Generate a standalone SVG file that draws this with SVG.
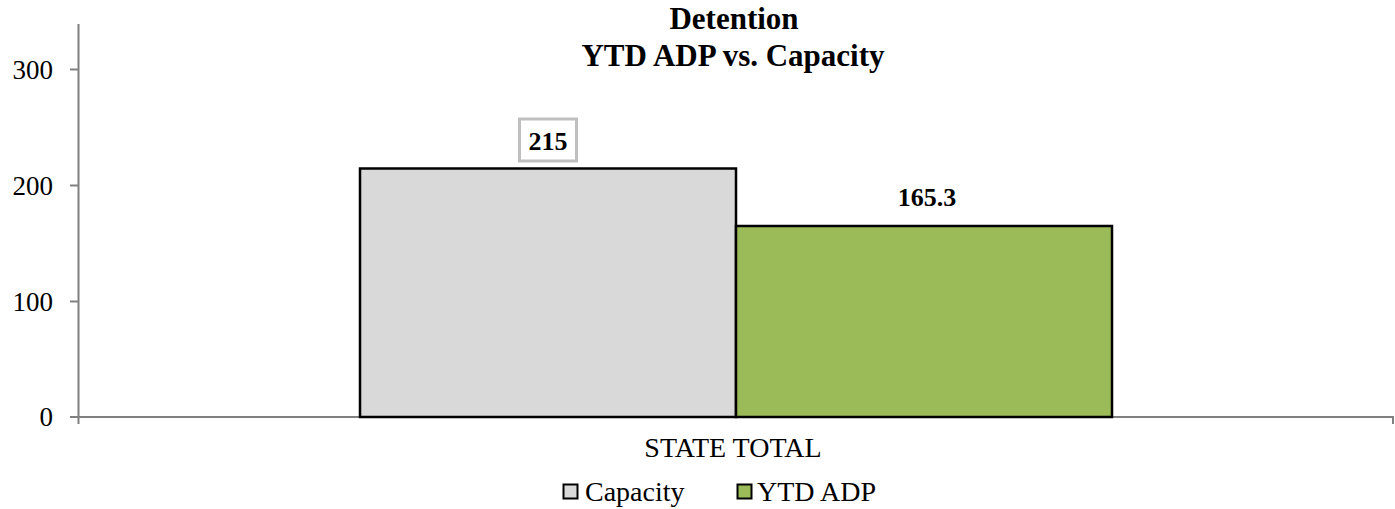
<svg xmlns="http://www.w3.org/2000/svg" width="1395" height="509" viewBox="0 0 1395 509">
<style>
text{font-family:"Liberation Serif","Times New Roman",serif;fill:#000}
.ax{stroke:#808080;stroke-width:2;fill:none}
.tick{font-size:27px;text-anchor:end}
.title{font-size:31px;font-weight:bold;text-anchor:middle}
.lbl{font-size:26px;font-weight:bold;text-anchor:middle}
.bar{stroke:#000;stroke-width:2.5}
.leg{font-size:28px}
</style>
<rect width="1395" height="509" fill="#fff"/>
<g id="title">
<text class="title" x="734" y="29">Detention</text>
<text class="title" x="733" y="66">YTD ADP vs. Capacity</text>
</g>
<g id="axes">
<line class="ax" x1="78.5" y1="24" x2="78.5" y2="424"/>
<line class="ax" x1="70" y1="69.5" x2="78.5" y2="69.5"/>
<line class="ax" x1="70" y1="185.5" x2="78.5" y2="185.5"/>
<line class="ax" x1="70" y1="301.5" x2="78.5" y2="301.5"/>
<line class="ax" x1="70" y1="417" x2="1393" y2="417"/>
<line class="ax" x1="1393" y1="416" x2="1393" y2="424"/>
<text class="tick" x="53" y="79">300</text>
<text class="tick" x="53" y="195">200</text>
<text class="tick" x="53" y="311">100</text>
<text class="tick" x="53" y="426">0</text>
<text x="733" y="457" font-size="28" text-anchor="middle">STATE TOTAL</text>
</g>
<g id="capacity">
<rect class="bar" x="360" y="168.5" width="376" height="248.5" fill="#D9D9D9"/>
<rect x="519.5" y="119" width="57" height="42" fill="#fff" stroke="#BFBFBF" stroke-width="3"/>
<text class="lbl" x="548" y="150">215</text>
</g>
<g id="ytd_adp">
<rect class="bar" x="736" y="226" width="376" height="191" fill="#9BBB59"/>
<text class="lbl" x="927" y="206">165.3</text>
</g>
<g id="legend">
<rect x="563.5" y="484.5" width="14" height="14" fill="#D9D9D9" stroke="#000" stroke-width="2"/>
<text class="leg" x="585" y="501">Capacity</text>
<rect x="737.5" y="484.5" width="14" height="14" fill="#9BBB59" stroke="#000" stroke-width="2"/>
<text class="leg" x="757" y="501">YTD ADP</text>
</g>
</svg>
